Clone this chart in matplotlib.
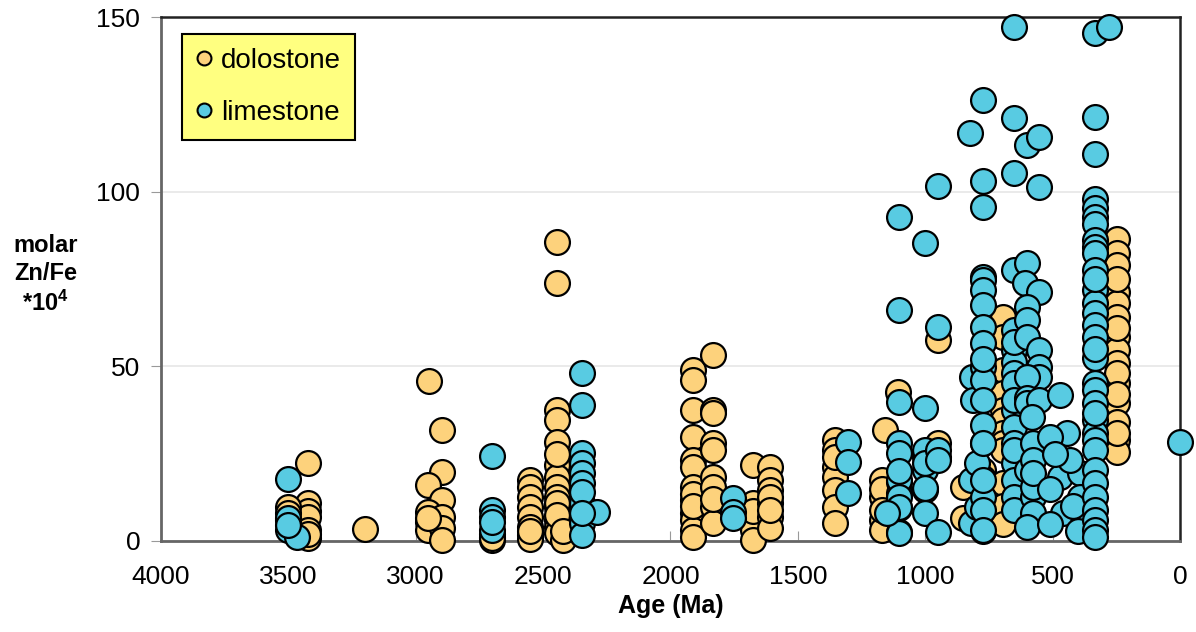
import matplotlib.pyplot as plt
from matplotlib.lines import Line2D

plt.rcParams['font.family'] = ['Liberation Sans', 'DejaVu Sans']
plt.rcParams['mathtext.fontset'] = 'custom'
plt.rcParams['mathtext.bf'] = 'Liberation Sans:bold'
plt.rcParams['mathtext.rm'] = 'Liberation Sans'

# dolostone samples (age in Ma, molar Zn/Fe *10^4)
dolo_age = [3423, 3423, 3423, 3423, 3423, 3423, 3423, 3501, 3501, 3501,
            3199,
            2948, 2897, 2897, 2952, 2897, 2952, 2952, 2897, 2952, 2897, 2897, 2952,
            2700, 2700, 2700, 2700,
            2551, 2551, 2551, 2551, 2551, 2551, 2551, 2551, 2551,
            2445, 2445, 2445, 2445, 2445, 2445, 2445, 2445, 2445, 2445, 2445, 2445,
            2445, 2420, 2445, 2445, 2420, 2445,
            1911, 1911, 1911, 1911, 1911, 1911, 1911, 1911, 1911, 1911, 1911, 1911,
            1911, 1911,
            1833, 1833, 1833, 1833, 1833, 1833, 1833, 1833, 1833, 1833,
            1676, 1676, 1676, 1676, 1676, 1676,
            1609, 1609, 1609, 1609, 1609, 1609, 1609, 1609,
            1354, 1354, 1354, 1354, 1354, 1354, 1354, 1354,
            1158, 1107, 1170, 1170, 1170, 1170, 1170, 1170,
            950, 950, 950,
            852, 852,
            773, 773, 773, 773,
            695, 695, 695, 695, 695, 695, 695, 695, 695, 695, 695, 695,
            247, 247, 247, 247, 247, 247, 247, 247, 247, 247, 247, 247, 247, 247,
            247, 247, 247, 247, 247]
dolo_val = [22.3, 10.9, 8.5, 6.9, 3.1, 0.9, 2.0, 9.7, 8.0, 6.0,
            3.4,
            45.8, 31.8, 19.8, 16.0, 11.7, 8.3, 5.4, 6.9, 3.1, 3.7, 0.3, 6.5,
            0.3, 1.2, 2.0, 0.8,
            17.5, 15.5, 12.6, 9.7, 7.0, 4.0, 1.7, 0.5, 3.0,
            85.6, 73.9, 37.5, 34.6, 28.3, 21.8, 18.3, 15.5, 12.6, 9.7, 6.0, 4.0,
            2.3, 0.3, 11.0, 7.5, 3.0, 25.0,
            49.0, 46.1, 37.5, 29.8, 23.2, 21.2, 15.5, 11.7, 8.0, 6.0, 3.1, 1.1,
            13.5, 10.0,
            53.2, 37.5, 36.6, 28.1, 26.0, 18.3, 15.5, 9.7, 5.2, 12.0,
            21.8, 10.9, 6.9, 3.1, 0.3, 8.5,
            21.2, 17.5, 14.6, 10.9, 6.9, 3.7, 12.5, 9.0,
            28.9, 26.0, 21.2, 18.3, 14.6, 9.7, 5.2, 24.0,
            31.8, 42.7, 17.5, 12.6, 6.0, 3.1, 15.0, 9.0,
            57.5, 28.1, 24.0,
            15.5, 6.6,
            28.1, 20.3, 3.0, 18.0,
            64.1, 58.4, 49.0, 42.4, 37.5, 34.6, 30.9, 28.1, 26.0, 16.6, 10.0, 5.0,
            86.5, 82.4, 79.0, 71.3, 68.1, 64.1, 58.4, 54.7, 51.0, 45.2, 39.5, 34.1,
            28.9, 25.5, 61.0, 48.0, 42.0, 31.0, 75.0]

# limestone samples
lime_age = [3501, 3501, 3501, 3466, 3501,
            2700, 2700, 2700, 2700, 2700,
            2347, 2347, 2347, 2347, 2347, 2347, 2347, 2347, 2347, 2288, 2347, 2347,
            1754, 1754, 1754,
            1303, 1303, 1303,
            1103, 1103, 1103, 1103, 1103, 1103, 1103, 1103, 1103, 1103, 1103, 1103,
            1103, 1150, 1103,
            1001, 1001, 1001, 1001, 1001, 1001, 1001, 1001, 1001,
            950, 950, 950, 950, 950,
            824, 816, 812, 821, 797, 821, 797,
            773, 773, 773, 773, 773, 773, 773, 773, 773, 773, 773, 773, 773, 773,
            773, 773, 773, 773, 773,
            651, 651, 651, 651, 651, 651, 651, 651, 651, 651, 651, 651, 651, 651,
            651, 651, 651, 651, 651,
            600, 553, 553, 600, 608, 553, 600, 600, 600, 553, 553, 553, 600, 600,
            600, 553, 577, 600, 577, 577, 600, 577, 580, 577, 577,
            471, 444, 510, 471, 460, 392, 392, 380, 432, 510, 420, 490, 400, 510,
            334, 334, 334, 334, 334, 334, 334, 334, 334, 334, 334, 334, 334, 334,
            334, 334, 334, 334, 334, 334, 334, 334, 334, 334, 334, 334, 334, 334,
            334, 334, 334, 334, 334, 334,
            279, 0]
lime_val = [17.7, 6.6, 3.1, 1.1, 4.5,
            24.3, 8.9, 7.0, 3.1, 5.5,
            48.1, 38.9, 25.2, 22.3, 19.5, 16.6, 10.9, 5.2, 1.7, 8.3, 14.0, 8.0,
            12.3, 8.3, 6.6,
            28.3, 22.6, 13.7,
            92.8, 66.1, 39.8, 28.1, 25.2, 16.9, 13.7, 9.4, 2.6, 17.5, 12.6, 9.7,
            2.3, 8.0, 20.0,
            85.3, 38.1, 24.0, 20.3, 14.6, 8.0, 26.0, 22.3, 15.2,
            101.6, 61.3, 26.0, 23.2, 2.6,
            116.8, 47.0, 40.4, 17.5, 22.3, 5.2, 9.7,
            126.3, 103.1, 95.6, 75.6, 74.7, 71.9, 67.6, 61.3, 56.7, 49.8, 46.1, 40.4,
            33.2, 28.1, 12.6, 8.9, 3.1, 17.5, 52.0,
            147.2, 121.1, 105.3, 77.6, 54.7, 51.2, 48.1, 37.5, 32.6, 28.1, 22.3, 17.5,
            12.6, 8.9, 45.2, 40.4, 26.0, 60.4, 57.0,
            113.4, 115.7, 101.3, 79.6, 74.0, 71.3, 67.0, 63.3, 58.4, 54.7, 49.8, 47.0,
            47.0, 40.9, 39.5, 40.4, 28.1, 20.3, 12.6, 8.0, 4.0, 15.5, 35.5, 23.2, 19.5,
            41.8, 30.9, 29.8, 18.3, 8.0, 19.5, 12.6, 5.2, 23.2, 15.0, 10.0, 25.0, 3.0, 5.0,
            145.5, 121.4, 110.8, 97.9, 95.3, 92.8, 90.8, 86.2, 84.2, 82.4, 77.6, 71.9,
            68.1, 65.3, 61.8, 58.4, 52.4, 45.2, 43.2, 39.5, 34.6, 30.9, 28.9, 26.0,
            20.3, 16.6, 12.6, 8.9, 6.0, 3.1, 1.1, 75.0, 55.0, 36.6,
            147.2, 28.3]

dolo_color = '#FDD27C'
lime_color = '#58CBE2'

fig = plt.figure(figsize=(11.96, 6.32), dpi=100)
ax = fig.add_axes([0.1346, 0.144, 0.852, 0.829])

ax.scatter(dolo_age, dolo_val, s=320, c=dolo_color, edgecolors='black',
           linewidths=1.6, zorder=3, clip_on=False)
ax.scatter(lime_age, lime_val, s=320, c=lime_color, edgecolors='black',
           linewidths=1.6, zorder=4, clip_on=False)

ax.set_xlim(4000, 0)
ax.set_ylim(0, 150)
ax.set_xticks([4000, 3500, 3000, 2500, 2000, 1500, 1000, 500, 0])
ax.set_yticks([0, 50, 100, 150])
ax.tick_params(axis='x', direction='in', length=7, color='#999999',
               labelsize=19, pad=17)
ax.tick_params(axis='y', direction='out', length=7, color='#999999',
               labelsize=19, pad=8)
ax.grid(axis='y', color='#e6e6e6', linewidth=1.2, zorder=0)
ax.set_axisbelow(True)

for side in ['top', 'right']:
    ax.spines[side].set_color('#222222')
    ax.spines[side].set_linewidth(1.8)
for side in ['left', 'bottom']:
    ax.spines[side].set_color('#666666')
    ax.spines[side].set_linewidth(2.0)

ax.set_xlabel('Age (Ma)', fontsize=18, fontweight='bold', labelpad=4)
fig.text(0.038, 0.565, 'molar\nZn/Fe\n' + r'$\mathbf{*10^4}$', fontsize=17,
         fontweight='bold', ha='center', va='center', linespacing=1.3)

handles = [
    Line2D([], [], marker='o', linestyle='none', markersize=10,
           markerfacecolor=dolo_color, markeredgecolor='black', markeredgewidth=1.5),
    Line2D([], [], marker='o', linestyle='none', markersize=10,
           markerfacecolor=lime_color, markeredgecolor='black', markeredgewidth=1.5),
]
leg = ax.legend(handles, ['dolostone', 'limestone'], loc='upper left',
                bbox_to_anchor=(0.0206, 0.968), fontsize=20, frameon=True,
                fancybox=False, edgecolor='black', facecolor='#FFFF80',
                framealpha=1, handlelength=0.6, handletextpad=0.3,
                labelspacing=0.95, borderpad=0.5, borderaxespad=0)
leg.get_frame().set_linewidth(1.5)
leg.set_zorder(10)

fig.savefig('out.png', dpi=100)
